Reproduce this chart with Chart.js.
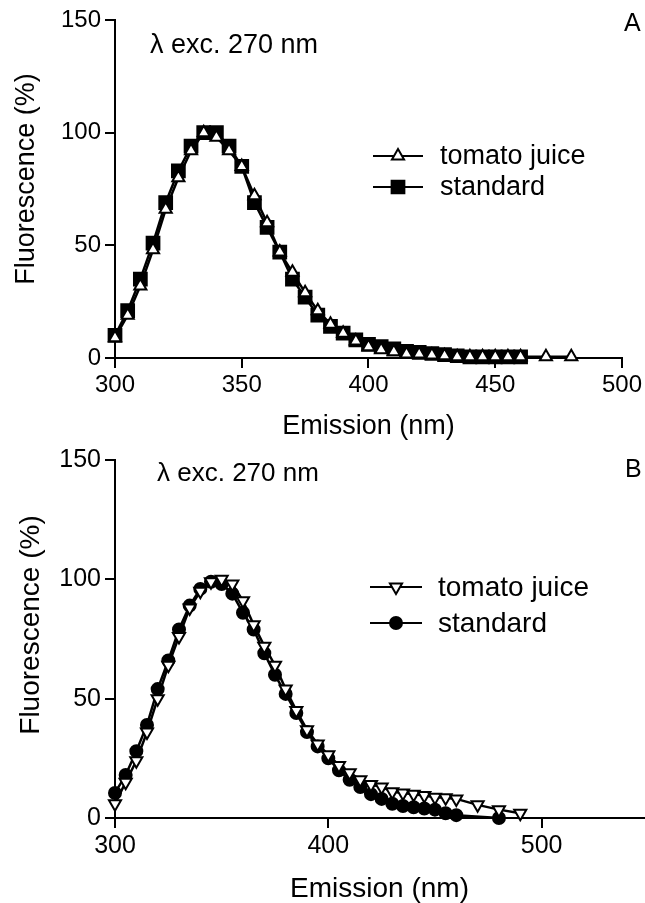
<!DOCTYPE html>
<html>
<head>
<meta charset="utf-8">
<script src="https://cdn.jsdelivr.net/npm/chart.js@4.4.1/dist/chart.umd.min.js"></script>
<style>
  html, body { margin: 0; padding: 0; background: #fff; overflow: hidden; }
  #wrap { position: relative; width: 645px; height: 903px; overflow: hidden; }
  canvas { position: absolute; left: 0; }
</style>
</head>
<body>
<div id="wrap">
  <canvas id="chartA" width="645" height="440" style="top:0"></canvas>
  <canvas id="chartB" width="653" height="463" style="top:440px"></canvas>
</div>
<script>
// panel A - excitation 270 nm
let emA_tomato = [300,305,310,315,320,325,330,335,340,345,350,355,360,365,370,375,380,385,390,395,400,405,410,415,420,425,430,435,440,445,450,455,460,470,480];
let flA_tomato = [9,19,32,48,66,80,92,100,98,92,85,72,60,47,38,29,21,15,11,7.5,5,3.7,2.8,1.8,1.8,1.3,1,0.5,0.5,0.5,0.5,0.5,0.5,0.5,0.5];
let emA_std = [300,305,310,315,320,325,330,335,340,345,350,355,360,365,370,375,380,385,390,395,400,405,410,415,420,425,430,435,440,445,450,455,460];
let flA_std = [10,21,35,51,69,83,94,100,100,94,85,69,58,47,35,27,19,14,11,8,6,5,4,3,2.5,2,1.5,1,0.5,0.5,0.5,0.5,0.5];

// panel B
let emB_tomato = [300,305,310,315,320,325,330,335,340,345,350,355,360,365,370,375,380,385,390,395,400,405,410,415,420,425,430,435,440,445,450,455,460,470,480,490];
let flB_tomato = [6,15,24,36,50,64,76,88,95,99,100,98,91,81,72,64,54,45,37,31,26.5,22,19,16,14,13,11,10.5,10,9.4,8.7,8.5,8,5.5,3.5,2];
let emB_std = [300,305,310,315,320,325,330,335,340,345,350,355,360,365,370,375,380,385,390,395,400,405,410,415,420,425,430,435,440,445,450,455,460,480];
let flB_std = [10.5,18,28,39,54,66,79,89,96,99,98,94,86,79,69,60,52,44,36,30,25,20,16,13,10,8,6,5,4.5,4,3.5,2,1.2,0];

let yTicks = [0, 50, 100, 150];

const FONT = '"Liberation Sans", Arial, Helvetica, sans-serif';
Chart.defaults.font.family = FONT;
Chart.defaults.color = '#000';

function pts(xs, ys) {
  return xs.map((x, i) => ({x: x, y: ys[i]}));
}

function drawMarker(ctx, style, x, y, r, rot) {
  ctx.beginPath();
  if (style === 'triangle') {
    let a = rot ? Math.PI : 0;
    for (let k = 0; k < 3; k++) {
      let px = x + Math.sin(a) * r, py = y - Math.cos(a) * r;
      if (k === 0) ctx.moveTo(px, py); else ctx.lineTo(px, py);
      a += Math.PI * 2 / 3;
    }
    ctx.closePath();
    ctx.fillStyle = '#fff';
  } else if (style === 'rect') {
    let s = r * Math.SQRT1_2;
    ctx.rect(x - s, y - s, 2 * s, 2 * s);
    ctx.fillStyle = '#000';
  } else {
    ctx.arc(x, y, r, 0, Math.PI * 2);
    ctx.fillStyle = '#000';
  }
  ctx.fill();
  ctx.stroke();
}

// y title, annotation text, panel letter and legend
function deco(cfg) {
  return {
    id: 'deco',
    afterDraw(chart) {
      let ctx = chart.ctx;
      ctx.save();
      ctx.fillStyle = '#000';
      ctx.textBaseline = 'middle';

      ctx.save();
      ctx.translate(cfg.ytX, cfg.ytY);
      ctx.rotate(-Math.PI / 2);
      ctx.textAlign = 'center';
      ctx.font = cfg.ytSize + 'px ' + FONT;
      ctx.fillText('Fluorescence (%)', 0, 0);
      ctx.restore();

      ctx.textAlign = 'left';
      ctx.font = cfg.noteSize + 'px ' + FONT;
      ctx.fillText('λ exc. 270 nm', cfg.noteX, cfg.noteY);
      ctx.font = cfg.letterSize + 'px ' + FONT;
      ctx.fillText(cfg.letter, cfg.letterX, cfg.letterY);

      ctx.font = cfg.legSize + 'px ' + FONT;
      cfg.items.forEach(it => {
        ctx.strokeStyle = '#000';
        ctx.lineWidth = 2;
        ctx.beginPath();
        ctx.moveTo(cfg.lx0, it.y);
        ctx.lineTo(cfg.lx1, it.y);
        ctx.stroke();
        drawMarker(ctx, it.style, (cfg.lx0 + cfg.lx1) / 2, it.y, it.r, it.rot);
        ctx.fillStyle = '#000';
        ctx.fillText(it.text, cfg.tx, it.y + 1);
      });
      ctx.restore();
    }
  };
}

function axisX(min, max, step, tickSize, titleSize, h) {
  return {
    type: 'linear', min: min, max: max,
    ticks: { stepSize: step, includeBounds: false, color: '#000', font: {size: tickSize}, padding: 3 },
    grid: { drawOnChartArea: false, drawTicks: true, tickLength: 10, color: '#000', lineWidth: 2 },
    border: { color: '#000', width: 2 },
    title: { display: true, text: 'Emission (nm)', color: '#000', font: {size: titleSize, lineHeight: 1}, padding: {top: 0, bottom: 0} },
    afterFit: s => { s.height = h; }
  };
}

function axisY(tickSize) {
  return {
    min: 0, max: 150,
    afterBuildTicks: s => { s.ticks = yTicks.map(v => ({value: v})); },
    ticks: { color: '#000', font: {size: tickSize}, padding: 4 },
    grid: { drawOnChartArea: false, drawTicks: true, tickLength: 10, color: '#000', lineWidth: 2 },
    border: { color: '#000', width: 2 },
    title: { display: false },
    afterFit: s => { s.width = 115; }
  };
}

function series(label, xs, ys, style, fill, r, rot, order) {
  return {
    label: label,
    data: pts(xs, ys),
    order: order,
    borderColor: '#000',
    borderWidth: 2.5,
    pointStyle: style,
    pointRadius: r,
    pointRotation: rot,
    pointBackgroundColor: fill,
    pointBorderColor: '#000',
    pointBorderWidth: 2,
    tension: 0,
    clip: false
  };
}

// tomato juice first so its open markers are drawn over the standard
new Chart(document.getElementById('chartA'), {
  type: 'line',
  data: {
    datasets: [
      series('tomato juice', emA_tomato, flA_tomato, 'triangle', '#fff', 7, 0, 0),
      series('standard', emA_std, flA_std, 'rect', '#000', 9, 0, 1)
    ]
  },
  options: {
    responsive: false,
    animation: false,
    layout: { padding: {top: 20, right: 22, left: 0, bottom: 0} },
    plugins: { legend: {display: false}, tooltip: {enabled: false} },
    scales: { x: axisX(300, 500, 50, 24, 27, 82), y: axisY(24) }
  },
  plugins: [deco({
    ytX: 27, ytY: 179, ytSize: 27,
    noteX: 150, noteY: 46, noteSize: 27,
    letter: 'A', letterX: 624, letterY: 24, letterSize: 25,
    lx0: 373, lx1: 423, tx: 440, legSize: 27,
    items: [
      {text: 'tomato juice', y: 156, style: 'triangle', r: 7, rot: 0},
      {text: 'standard', y: 187, style: 'rect', r: 9, rot: 0}
    ]
  })]
});

new Chart(document.getElementById('chartB'), {
  type: 'line',
  data: {
    datasets: [
      series('tomato juice', emB_tomato, flB_tomato, 'triangle', '#fff', 7, 180, 0),
      series('standard', emB_std, flB_std, 'circle', '#000', 6, 0, 1)
    ]
  },
  options: {
    responsive: false,
    animation: false,
    layout: { padding: {top: 20, right: 0, left: 0, bottom: 0} },
    plugins: { legend: {display: false}, tooltip: {enabled: false} },
    scales: { x: axisX(300, 548, 100, 25, 28, 85), y: axisY(25) }
  },
  plugins: [deco({
    ytX: 31, ytY: 185, ytSize: 28,
    noteX: 157, noteY: 34, noteSize: 26,
    letter: 'B', letterX: 625, letterY: 30, letterSize: 25,
    lx0: 370, lx1: 422, tx: 438, legSize: 28,
    items: [
      {text: 'tomato juice', y: 147, style: 'triangle', r: 7, rot: 1},
      {text: 'standard', y: 183, style: 'circle', r: 6, rot: 0}
    ]
  })]
});
</script>
</body>
</html>
